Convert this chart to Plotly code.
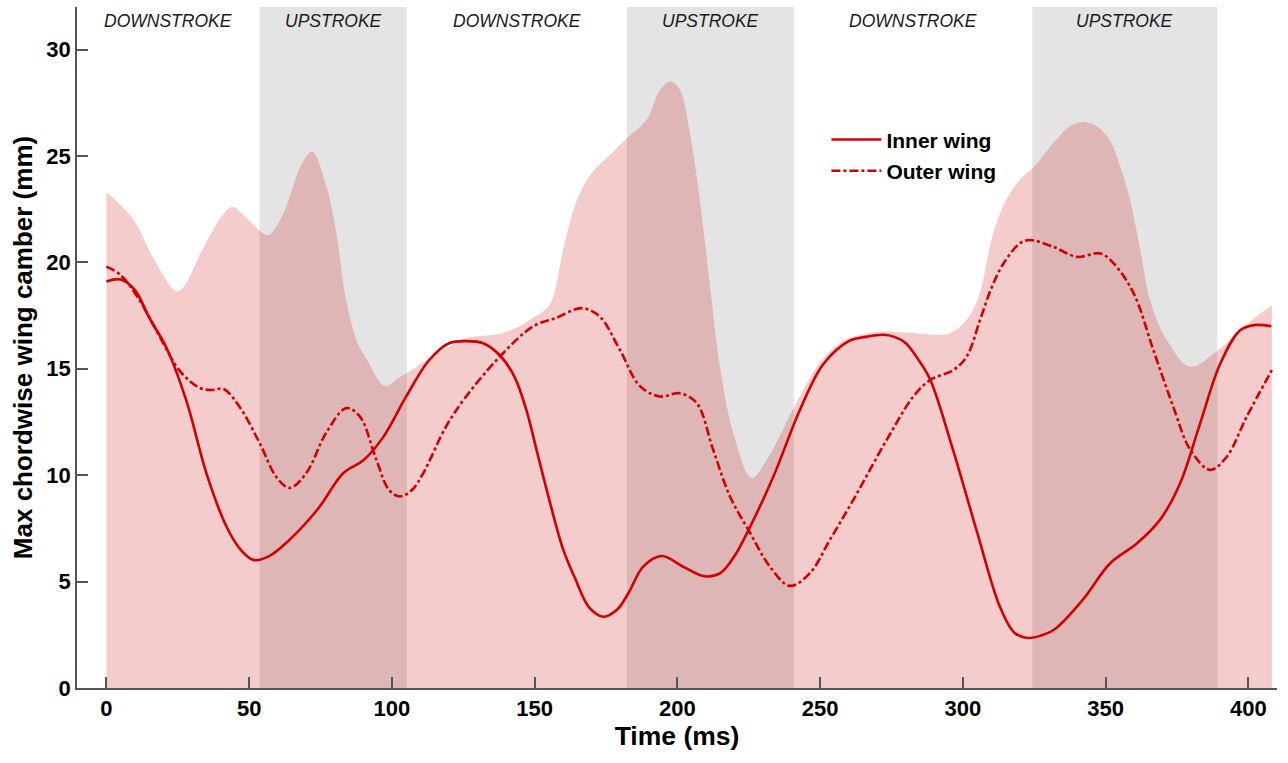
import plotly.graph_objects as go

# ---------------- data ----------------
inner_t = [0, 5, 10, 15, 21, 28, 35, 42, 47, 51.5, 57, 64, 74, 83, 90, 97, 105, 113, 120, 126, 132, 138,
           143, 147, 151, 155, 160, 164, 169, 174, 179, 183, 188, 194.5, 202, 209.5, 215, 220, 225, 233.5,
           243, 251, 260, 266, 272, 276, 280, 284, 288.5, 296.5, 305, 313, 318, 322.5, 327, 332, 342,
           351.5, 361, 369, 376, 383, 390, 397, 402, 408]
inner_v = [19.1, 19.2, 18.7, 17.4, 16.0, 13.5, 10.1, 7.6, 6.5, 6.02, 6.2, 6.95, 8.4, 10.1, 10.7, 11.8, 13.7,
           15.4, 16.2, 16.3, 16.2, 15.6, 14.6, 13.1, 11.0, 8.9, 6.5, 5.2, 3.8, 3.35, 3.7, 4.5, 5.7, 6.2, 5.7,
           5.25, 5.4, 6.2, 7.45, 9.9, 13.1, 15.2, 16.3, 16.5, 16.6, 16.5, 16.2, 15.5, 14.5, 11.2, 7.3, 3.8,
           2.6, 2.35, 2.45, 2.75, 4.15, 5.85, 6.8, 7.9, 9.6, 12.4, 15.2, 16.8, 17.05, 17.0]

outer_t = [0, 5, 11.7, 18.7, 25.7, 32.7, 37, 41, 46.7, 53.7, 59.6, 64.2, 70, 77, 84, 88.8, 94.6, 99, 102.8,
           107, 111, 119, 126, 138, 149.5, 157.7, 166.4, 172.8, 179.8, 186.8, 193.8, 200.8, 206.7, 212.5,
           218.4, 225.4, 232.4, 239.4, 246.4, 253.4, 261.6, 273.3, 282.6, 288.5, 296.6, 301.3, 306, 310,
           314.2, 320, 323.5, 331.7, 339.9, 348.1, 352.8, 359.8, 366.7, 373.7, 379.6, 386.6, 392.4, 399.4,
           408.2]
outer_v = [19.8, 19.4, 18.2, 16.5, 14.9, 14.1, 14.0, 14.05, 13.2, 11.5, 9.9, 9.4, 10.1, 12.0, 13.15, 12.75,
           10.7, 9.3, 9.0, 9.3, 10.1, 12.3, 13.7, 15.6, 17.0, 17.4, 17.85, 17.45, 15.9, 14.2, 13.7, 13.85,
           13.4, 11.2, 9.0, 7.3, 5.7, 4.8, 5.4, 6.96, 8.84, 11.66, 13.69, 14.47, 14.94, 15.57, 17.3, 18.8,
           19.95, 20.9, 21.05, 20.73, 20.26, 20.42, 19.95, 18.54, 15.88, 13.2, 11.2, 10.25, 10.87, 12.75,
           14.94]

env_t = [0, 9, 17.5, 25, 34, 40, 44, 49, 55, 57, 62, 68, 72, 77, 80.5, 84, 88, 91, 97.5, 102.7, 108.6,
         114.4, 120, 126, 132, 137.8, 144, 149.5, 153, 156, 160, 164.7, 170, 176, 182, 189.2, 193.9,
         197.6, 200.9, 204.4, 207.9, 212, 214.9, 219.6, 226, 231.2, 240.5, 248.8, 254, 259.3, 266, 272,
         280, 290, 295, 300, 305, 310.7, 315, 320, 325, 331.6, 337.5, 342, 346.9, 351.6, 355.1, 358.6,
         362.1, 365.6, 371.4, 379.6, 388.7, 399.4, 408.2]
env_v = [23.3, 22.1, 19.95, 18.65, 20.7, 22.1, 22.6, 22.1, 21.35, 21.3, 22.3, 24.5, 25.2, 23.6, 21.4, 18.2,
         16.2, 15.5, 14.2, 14.6, 15.1, 15.6, 16.05, 16.45, 16.55, 16.65, 16.95, 17.4, 17.7, 18.2, 20.6,
         22.9, 24.2, 25.0, 25.8, 26.7, 28.1, 28.5, 28.1, 26.05, 22.9, 18.2, 15.1, 11.97, 9.86, 10.7, 13.1,
         15.1, 15.9, 16.4, 16.65, 16.75, 16.7, 16.6, 16.65, 17.1, 18.2, 21.4, 22.9, 23.9, 24.5, 25.6, 26.4,
         26.6, 26.4, 25.7, 24.5, 22.9, 20.6, 18.2, 16.35, 15.1, 15.8, 17.1, 18.0]

upstroke_start = [53.6, 182.3, 324.3]
upstroke_end = [105.2, 240.8, 389.1]
phase_labels = ["DOWNSTROKE", "UPSTROKE", "DOWNSTROKE", "UPSTROKE", "DOWNSTROKE", "UPSTROKE"]
phase_centers = [21.7, 79.4, 143.75, 211.5, 282.5, 356.7]

x_ticks = [0, 50, 100, 150, 200, 250, 300, 350, 400]
y_ticks = [0, 5, 10, 15, 20, 25, 30]

# ---------------- figure ----------------
RED = "#D20000"
FONT = "Liberation Sans, Arial, sans-serif"

fig = go.Figure()

fig.add_trace(go.Scatter(x=env_t, y=env_v, mode="lines", line=dict(width=0, shape="spline", smoothing=1.0),
                         fill="tozeroy", fillcolor="rgba(205,0,0,0.2)", showlegend=False, hoverinfo="skip"))
fig.add_trace(go.Scatter(x=inner_t, y=inner_v, mode="lines", name="Inner wing", legendgroup="a",
                         line=dict(color=RED, width=2.6, shape="spline", smoothing=1.0)))
fig.add_trace(go.Scatter(x=outer_t, y=outer_v, mode="lines", name="Outer wing", legendgroup="b",
                         line=dict(color=RED, width=2.6, shape="spline", smoothing=1.0, dash="9px,3px,3px,3px")))

for s, e in zip(upstroke_start, upstroke_end):
    fig.add_shape(type="rect", xref="x", yref="y", x0=s, x1=e, y0=0, y1=32,
                  fillcolor="rgb(228,228,228)", line=dict(width=0), layer="below")

for lab, c in zip(phase_labels, phase_centers):
    fig.add_annotation(x=c, y=31.33, xref="x", yref="y", text=lab, showarrow=False,
                       font=dict(family=FONT, size=17.5, color="#1a1a1a", style="italic"))

fig.update_layout(
    width=1288, height=763,
    margin=dict(l=77, r=11, t=7, b=75),
    paper_bgcolor="white", plot_bgcolor="white",
    font=dict(family=FONT, color="black"),
    legend=dict(x=0.6245, y=0.835, xanchor="left", yanchor="top", bgcolor="rgba(0,0,0,0)",
                font=dict(family=FONT, size=21, color="black", weight="bold"),
                tracegroupgap=1, itemwidth=50),
    showlegend=True,
)
fig.update_xaxes(range=[-10.3, 410], tickvals=x_ticks, ticks="inside", ticklen=11, tickwidth=1.5,
                 tickcolor="#555", showline=True, linecolor="#555", linewidth=1.5, showgrid=False,
                 zeroline=False, tickfont=dict(family=FONT, size=22, weight="bold"),
                 title=dict(text="Time (ms)", font=dict(family=FONT, size=26.5, weight="bold"), standoff=2))
fig.update_yaxes(range=[0, 32], tickvals=y_ticks, ticks="inside", ticklen=11, tickwidth=1.5,
                 tickcolor="#555", showline=True, linecolor="#555", linewidth=1.5, showgrid=False,
                 zeroline=False, tickfont=dict(family=FONT, size=22, weight="bold"),
                 title=dict(text="Max chordwise wing camber (mm)",
                            font=dict(family=FONT, size=26, weight="bold"), standoff=6))

fig.write_html("out.html")
